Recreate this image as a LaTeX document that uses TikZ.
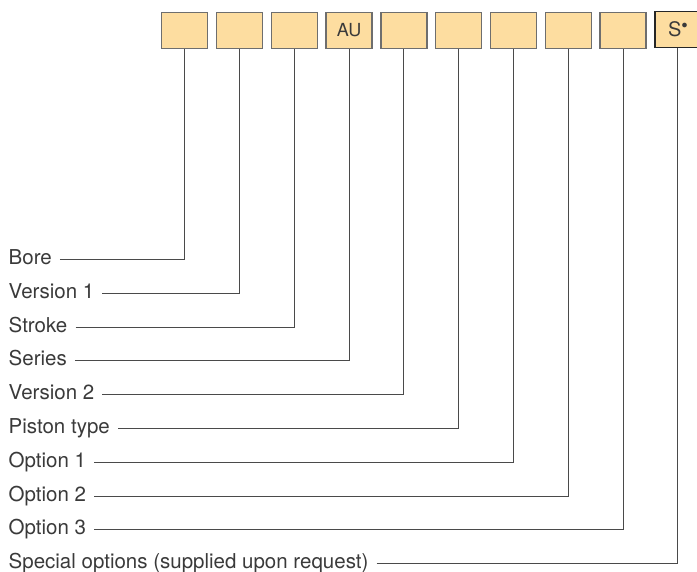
\documentclass[tikz,border=0pt]{standalone}
\usepackage{fontspec}
\setmainfont{TeX Gyre Heros}
\usetikzlibrary{positioning}

\definecolor{relleno}{HTML}{FDDDA0}
\definecolor{borde}{HTML}{6E6E6E}
\definecolor{linea}{HTML}{4A4A4A}
\definecolor{texto}{HTML}{3A3A3A}

\tikzset{
  caja/.style={draw=borde, line width=1.3pt, fill=relleno, minimum width=46pt, minimum height=36pt, inner sep=0pt, text=texto, font=\fontsize{18}{20}\selectfont},
  etiqueta/.style={anchor=west, inner xsep=8pt, inner ysep=0pt, text height=10pt, text depth=0pt, text=texto, font=\fontsize{20.5}{24}\selectfont},
  conector/.style={draw=linea, line width=0.9pt}
}

\begin{document}
\begin{tikzpicture}[x=1pt,y=-1pt]
\useasboundingbox (0,0) rectangle (697,572);

%Cajas
\node[caja] (c1) at (184.7,30.5) {};
\node[caja] (c2) at (239.5,30.5) {};
\node[caja] (c3) at (294.3,30.5) {};
\node[caja] (c4) at (349.1,30.5) {AU};
\node[caja] (c5) at (403.9,30.5) {};
\node[caja] (c6) at (458.7,30.5) {};
\node[caja] (c7) at (513.5,30.5) {};
\node[caja] (c8) at (568.3,30.5) {};
\node[caja] (c9) at (623.1,30.5) {};
\node[caja, draw=black!85, font=\fontsize{20}{22}\selectfont] (c10) at (677.9,29.5) {S\raisebox{0.4em}{\fontsize{13}{13}\selectfont$\bullet$}};

%Etiquetas
\node[etiqueta] (e1) at (0.5,259.5) {Bore};
\node[etiqueta] (e2) at (0.5,293.3) {Version 1};
\node[etiqueta] (e3) at (0.5,327.1) {Stroke};
\node[etiqueta] (e4) at (0.5,360.9) {Series};
\node[etiqueta] (e5) at (0.5,394.7) {Version 2};
\node[etiqueta] (e6) at (0.5,428.5) {Piston type};
\node[etiqueta] (e7) at (0.5,462.3) {Option 1};
\node[etiqueta] (e8) at (0.5,496.1) {Option 2};
\node[etiqueta] (e9) at (0.5,529.9) {Option 3};
\node[etiqueta] (e10) at (0.5,563.4) {Special options (supplied upon request)};

%Conectores
\draw[conector] (e1.east) -| (c1.south);
\draw[conector] (e2.east) -| (c2.south);
\draw[conector] (e3.east) -| (c3.south);
\draw[conector] (e4.east) -| (c4.south);
\draw[conector] (e5.east) -| (c5.south);
\draw[conector] (e6.east) -| (c6.south);
\draw[conector] (e7.east) -| (c7.south);
\draw[conector] (e8.east) -| (c8.south);
\draw[conector] (e9.east) -| (c9.south);
\draw[conector] (e10.east) -| (c10.south);
\end{tikzpicture}
\end{document}
